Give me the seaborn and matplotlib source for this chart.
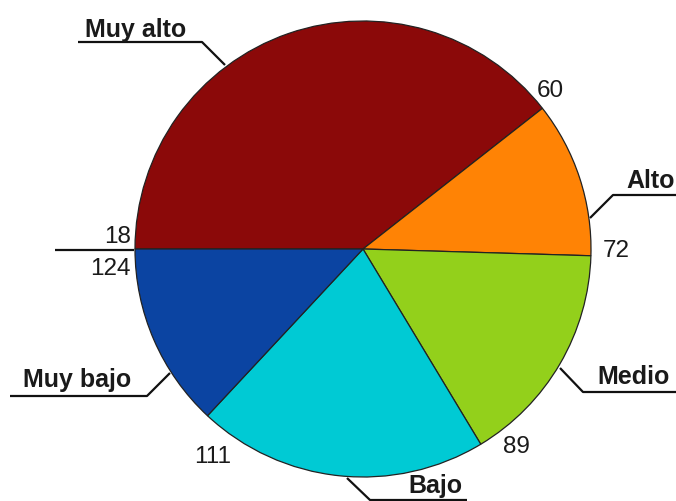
import matplotlib
matplotlib.use("Agg")
import matplotlib.pyplot as plt
import seaborn as sns

# Risk classes and their share of the circle (degrees)
categories = ["Muy alto", "Alto", "Medio", "Bajo", "Muy bajo"]
shares = [141.9, 39.8, 57.2, 74.1, 47.0]
colors = ["#8B0909", "#FF8305", "#93D01B", "#00CAD4", "#0B44A2"]

# Values written at the slice boundaries
boundary_values = ["60", "72", "89", "111", "124", "18"]

sns.set_theme(style="white")
plt.rcParams["font.family"] = ["Liberation Sans", "DejaVu Sans"]

W, H = 676, 501
fig = plt.figure(figsize=(W / 100, H / 100), dpi=100)
ax = fig.add_axes([0, 0, 1, 1])

# Pie in pixel-like coordinates (y axis pointing down)
ax.pie(
    shares,
    colors=colors,
    startangle=180,
    counterclock=True,
    center=(363, 249),
    radius=228,
    wedgeprops=dict(edgecolor="#222222", linewidth=0.9),
)
ax.set_xlim(0, W)
ax.set_ylim(H, 0)
ax.set_aspect("equal")
ax.axis("off")

line_kw = dict(color="#111111", linewidth=1.6, solid_capstyle="butt", clip_on=False)

# Leader lines for the category labels
leaders = {
    "Muy alto": ([78, 202, 225], [42, 42, 65]),
    "Alto": ([590, 613, 676], [218, 195, 195]),
    "Medio": ([560, 583, 676], [368, 392, 392]),
    "Bajo": ([347, 370, 467], [478, 500, 500]),
    "Muy bajo": ([10, 147, 170], [396, 396, 373]),
}
for name in categories:
    xs, ys = leaders[name]
    ax.plot(xs, ys, **line_kw)

# Extension of the horizontal boundary on the left
ax.plot([55, 134], [250, 250], **line_kw)

label_kw = dict(fontsize=18, fontweight="bold", color="#1a1a1a", va="baseline")
label_pos = {
    "Muy alto": (85, 37, "left"),
    "Alto": (626, 188, "left"),
    "Medio": (597, 384, "left"),
    "Bajo": (408, 493, "left"),
    "Muy bajo": (23, 387, "left"),
}
for name in categories:
    x, y, ha = label_pos[name]
    ax.text(x, y, name, ha=ha, **label_kw)

num_kw = dict(fontsize=17.5, color="#1a1a1a", va="baseline")
num_pos = [
    (537, 97, "left"),
    (603, 257, "left"),
    (503, 453, "left"),
    (231, 463, "right"),
    (131, 275, "right"),
    (131, 243, "right"),
]
for txt, (x, y, ha) in zip(boundary_values, num_pos):
    ax.text(x, y, txt, ha=ha, **num_kw)

fig.savefig("out.png", dpi=100, facecolor="white")
